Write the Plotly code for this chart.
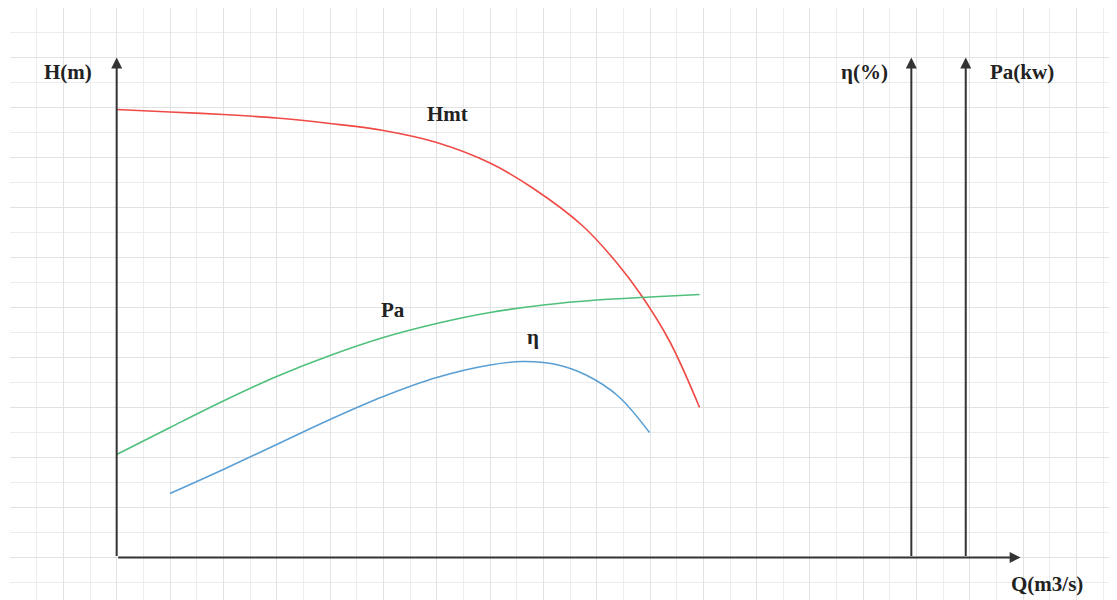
import plotly.graph_objects as go

# Data (grid units: x = Q, y = relative value)
hmt_q = [0.0, 1.0, 2.0, 3.0, 4.0, 5.0, 6.0, 7.0, 7.8, 8.74, 9.38, 9.84, 10.37, 10.93]
hmt_v = [8.96, 8.91, 8.86, 8.79, 8.68, 8.54, 8.3, 7.89, 7.39, 6.63, 5.89, 5.24, 4.32, 3.0]

pa_q = [0.0, 1.0, 2.0, 3.0, 4.0, 5.0, 6.0, 7.0, 8.0, 9.0, 10.0, 10.93]
pa_v = [2.06, 2.6, 3.13, 3.62, 4.04, 4.4, 4.68, 4.9, 5.05, 5.15, 5.21, 5.26]

eta_q = [1.0, 2.0, 3.0, 4.0, 5.0, 6.0, 7.0, 7.6, 8.2, 8.8, 9.4, 9.99]
eta_v = [1.28, 1.76, 2.26, 2.76, 3.22, 3.6, 3.85, 3.92, 3.87, 3.65, 3.23, 2.5]

axis_label_h = "H(m)"
axis_label_eta = "η(%)"
axis_label_pa = "Pa(kw)"
axis_label_q = "Q(m3/s)"
curve_labels = ["Hmt", "Pa", "η"]

fig = go.Figure()
fig.add_trace(go.Scatter(x=hmt_q, y=hmt_v, mode="lines", line=dict(color="#ef4a45", width=1.6, shape="spline", smoothing=1.0), hoverinfo="skip"))
fig.add_trace(go.Scatter(x=pa_q, y=pa_v, mode="lines", line=dict(color="#4fbf7c", width=1.6, shape="spline", smoothing=1.0), hoverinfo="skip"))
fig.add_trace(go.Scatter(x=eta_q, y=eta_v, mode="lines", line=dict(color="#5a9fd4", width=1.6, shape="spline", smoothing=1.0), hoverinfo="skip"))

axcol = "#333333"
arrows = [
    (0, 10.0, 0, 0),          # H axis
    (14.9, 10.0, 14.9, 0),    # eta axis
    (15.92, 10.0, 15.92, 0),  # Pa axis
    (16.95, 0, 0, 0),         # Q axis
]
for (x, y, ax, ay) in arrows:
    fig.add_annotation(x=x, y=y, ax=ax, ay=ay, xref="x", yref="y", axref="x", ayref="y",
                       text="", showarrow=True, arrowhead=2, arrowsize=1.1, arrowwidth=2,
                       arrowcolor=axcol, standoff=0, startstandoff=0)

font = dict(family="Liberation Serif", size=21, color="#222222")
labels = [
    (-0.92, 9.72, axis_label_h),
    (14.03, 9.72, axis_label_eta),
    (16.97, 9.72, axis_label_pa),
    (17.44, -0.53, axis_label_q),
    (6.21, 8.87, curve_labels[0]),
    (5.18, 4.95, curve_labels[1]),
    (7.8, 4.41, curve_labels[2]),
]
for (x, y, t) in labels:
    fig.add_annotation(x=x, y=y, xref="x", yref="y", text="<b>" + t + "</b>", showarrow=False, font=font)

grid_major = "#e2e2e2"
grid_minor = "#ececec"
fig.update_xaxes(range=[-2, -2 + 1115 / 53.333], tick0=0, dtick=1, showgrid=True, gridcolor=grid_major,
                 gridwidth=1, minor=dict(dtick=0.5, showgrid=True, gridcolor=grid_minor, gridwidth=1),
                 showticklabels=False, zeroline=False, showline=False, ticks="", fixedrange=True)
fig.update_yaxes(range=[-1.01, 10.99], tick0=0, dtick=1, showgrid=True, gridcolor=grid_major,
                 gridwidth=1, minor=dict(dtick=0.5, showgrid=True, gridcolor=grid_minor, gridwidth=1),
                 showticklabels=False, zeroline=False, showline=False, ticks="", fixedrange=True)

fig.update_layout(width=1117, height=600, margin=dict(l=2, r=0, t=0, b=0),
                  paper_bgcolor="white", plot_bgcolor="white", showlegend=False)

fig.write_html("out.html", config={"displayModeBar": False})
